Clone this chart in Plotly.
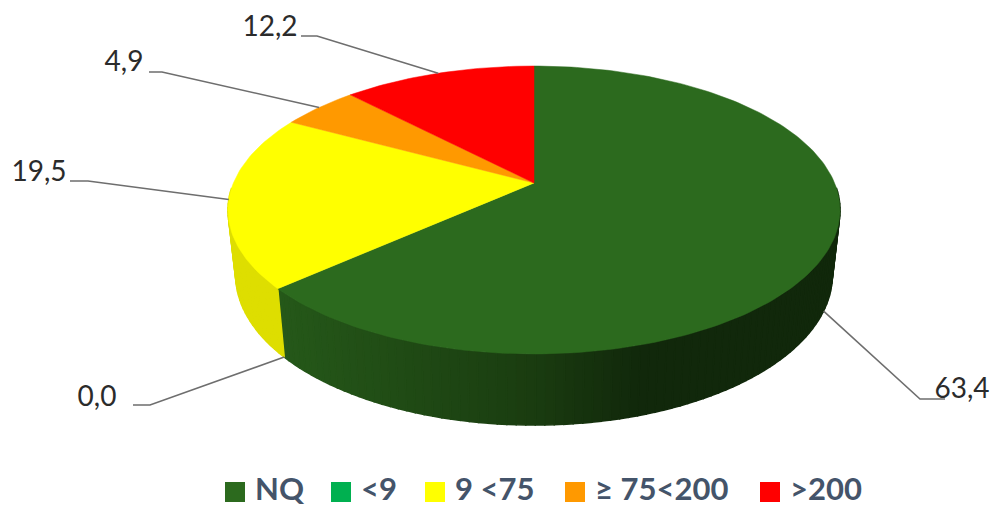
import numpy as np
import plotly.graph_objects as go

# Share of samples per class, in percent
categories = ["NQ", "<9", "9 <75", "≥ 75<200", ">200"]
values = [63.4, 0.0, 19.5, 4.9, 12.2]
value_labels = ["63,4", "0,0", "19,5", "4,9", "12,2"]
colors = ["#2C6A1E", "#00B050", "#FFFF00", "#FF9900", "#FF0000"]

# Perspective disc geometry, in canvas pixels
CX, CY = 534.0, 183.0
RX, RY = 300.6, 138.9
PERSP = -0.1875
BASE_CY, BASE_RX, BASE_RY = 247.0, 293.0, 144.7

# Callouts: text centre, elbow of the leader line, and whether it lands on the base rim
callouts = {
    "63,4": ((962, 391), (920, 399), True),
    "0,0": ((97, 399), (150, 405), True),
    "19,5": ((39, 174), (88, 181), False),
    "4,9": ((124, 64), (162, 72), False),
    "12,2": ((270, 29), (317, 36), False),
}
leader_starts = {"63,4": 945, "0,0": 133, "19,5": 70, "4,9": 149, "12,2": 301}

# Key row along the bottom of the chart
KEY_Y = 492
KEY_TEXT_GAP = 20
key_x = [235, 341, 435, 575, 770]


def rim(bearing, base=False):
    """Project a bearing (degrees clockwise from the top) on to the top or base rim."""
    t = np.radians(bearing)
    u, v = np.sin(t), -np.cos(t)
    w = 1 + PERSP * v
    if base:
        return CX + BASE_RX * u / w, BASE_CY + BASE_RY * v / w
    return CX + RX * u / w, CY + RY * v / w


def wall_color(i, x):
    if categories[i] == "NQ":
        r = np.interp(x, [280, 534, 640], [37, 26, 17])
        g = np.interp(x, [280, 534, 640], [88, 60, 40])
        b = np.interp(x, [280, 534, 640], [25, 16, 11])
        return f"rgb({r:.0f},{g:.0f},{b:.0f})"
    return "rgb(222,222,0)"


fig = go.Figure()

edges = np.concatenate([[0], np.cumsum(values)]) * 3.6

# Side wall: narrow quads along the visible front of the disc
for i, v in enumerate(values):
    a0, a1 = edges[i], edges[i + 1]
    if v == 0:
        continue
    lo, hi = max(a0, 92), min(a1, 268)
    if hi <= lo:
        continue
    steps = np.linspace(lo, hi, max(2, int((hi - lo) / 1.5) + 1))
    for b0, b1 in zip(steps[:-1], steps[1:]):
        tx0, ty0 = rim(b0)
        tx1, ty1 = rim(b1)
        bx0, by0 = rim(b0, True)
        bx1, by1 = rim(b1, True)
        col = wall_color(i, (tx0 + tx1) / 2)
        fig.add_trace(go.Scatter(
            x=[tx0, tx1, bx1, bx0, tx0], y=[ty0, ty1, by1, by0, ty0],
            mode="lines", fill="toself", fillcolor=col,
            line=dict(color=col, width=1.5), showlegend=False, hoverinfo="skip",
        ))

# Top face of each slice
for i, v in enumerate(values):
    if v == 0:
        continue
    b = np.linspace(edges[i], edges[i + 1], max(3, int(v * 3)))
    px, py = rim(b)
    fig.add_trace(go.Scatter(
        x=np.concatenate([[CX], px, [CX]]), y=np.concatenate([[CY], py, [CY]]),
        mode="lines", fill="toself", fillcolor=colors[i],
        line=dict(color=colors[i], width=0.5), showlegend=False, hoverinfo="skip",
    ))

# Leader lines run from each slice's mid bearing out to its value label
for i, label in enumerate(value_labels):
    (tx, ty), (ex, ey), on_base = callouts[label]
    ax, ay = rim((edges[i] + edges[i + 1]) / 2, on_base)
    fig.add_trace(go.Scatter(
        x=[leader_starts[label], ex, ax], y=[ey, ey, ay], mode="lines",
        line=dict(color="#6E6E6E", width=1.6), showlegend=False, hoverinfo="skip",
    ))
    fig.add_trace(go.Scatter(
        x=[tx], y=[ty], mode="text", text=[label], textposition="middle center",
        textfont=dict(family="Lato", size=28, color="#2B2B2B"),
        showlegend=False, hoverinfo="skip",
    ))

# Category key: square swatch followed by its name
for name, col, kx in zip(categories, colors, key_x):
    fig.add_trace(go.Scatter(
        x=[kx], y=[KEY_Y], mode="markers", name=name,
        marker=dict(symbol="square", size=20, color=col),
        showlegend=False, hoverinfo="skip",
    ))
    fig.add_trace(go.Scatter(
        x=[kx + KEY_TEXT_GAP], y=[KEY_Y], mode="text", text=[name],
        textposition="middle right",
        textfont=dict(family="Lato", size=31, color="#44546A", weight="bold"),
        showlegend=False, hoverinfo="skip",
    ))

fig.update_layout(
    width=995, height=512, margin=dict(l=0, r=0, t=0, b=0),
    paper_bgcolor="white", plot_bgcolor="white",
    showlegend=False,
    xaxis=dict(range=[0, 995], visible=False, fixedrange=True),
    yaxis=dict(range=[512, 0], visible=False, fixedrange=True),
)

fig.write_html("out.html", config={"displayModeBar": False})
